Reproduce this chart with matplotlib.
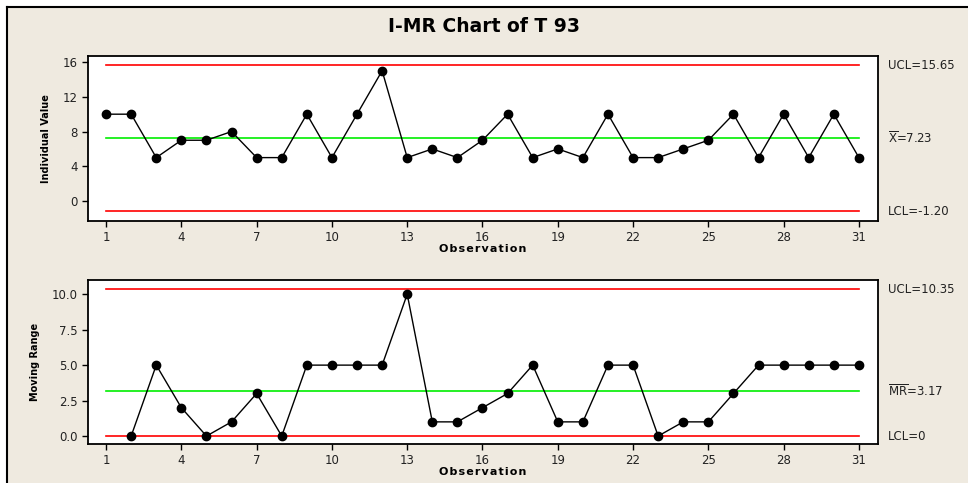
import numpy as np
import matplotlib
matplotlib.use("Agg")
import matplotlib.pyplot as plt
from matplotlib.patches import Rectangle
from matplotlib.lines import Line2D

obs = list(range(1, 32))
individual = [10, 10, 5, 7, 7, 8, 5, 5, 10, 5, 10, 15, 5, 6, 5, 7,
              10, 5, 6, 5, 10, 5, 5, 6, 7, 10, 5, 10, 5, 10, 5]
mr_obs = list(range(2, 32))
moving_range = [0, 5, 2, 0, 1, 3, 0, 5, 5, 5, 5, 10, 1, 1, 2, 3,
                5, 1, 1, 5, 5, 0, 1, 1, 3, 5, 5, 5, 5, 5]

# control limits (UCL, center, LCL)
i_limits = [15.65, 7.23, -1.20]
mr_limits = [10.35, 3.17, 0]
i_labels = ["UCL=15.65", r"$\overline{\mathrm{X}}$=7.23", "LCL=-1.20"]
mr_labels = ["UCL=10.35", r"$\overline{\mathrm{MR}}$=3.17", "LCL=0"]

xticks = list(range(1, 32, 3))
i_yticks = [0, 4, 8, 12, 16]
mr_yticks = [0.0, 2.5, 5.0, 7.5, 10.0]

bg = "#efeae0"
W, H = 968, 483
fig = plt.figure(figsize=(W / 100, H / 100), dpi=100)
fig.patch.set_facecolor("white")

# beige panel with black top/left border
fig.patches.append(Rectangle((7 / W, 0), 1, 1 - 7 / H, transform=fig.transFigure,
                             facecolor=bg, edgecolor="none", zorder=-1))
fig.lines.append(Line2D([7 / W, 1], [1 - 7 / H, 1 - 7 / H], transform=fig.transFigure,
                        color="black", linewidth=1.5))
fig.lines.append(Line2D([7 / W, 7 / W], [0, 1 - 7 / H], transform=fig.transFigure,
                        color="black", linewidth=1.5))

fig.text(0.5, 1 - 27 / H, "I-MR Chart of T 93", ha="center", va="center",
         fontsize=13.5, fontweight="bold")

def make_ax(top, bottom):
    left, right = 88 / W, 878 / W
    return fig.add_axes([left, 1 - bottom / H, right - left, (bottom - top) / H])

ax1 = make_ax(56, 221)
ax2 = make_ax(280, 444)

def draw(ax, x, y, limits, labels, yticks, ylim, ylabel, yfmt):
    ax.set_facecolor("white")
    colors = ["red", "#00ee00", "red"]
    for val, c, lab in zip(limits, colors, labels):
        ax.plot([1, 31], [val, val], color=c, linewidth=1.2, zorder=1)
        ax.annotate(lab, xy=(1, val), xycoords=("axes fraction", "data"),
                    xytext=(7, 0), textcoords="offset points",
                    va="center", ha="left", fontsize=8.5, color="#222222")
    ax.plot(x, y, color="black", linewidth=1, marker="o", markersize=6, zorder=3)
    ax.set_xlim(0.28, 31.76)
    ax.set_ylim(*ylim)
    ax.set_xticks(xticks)
    ax.set_yticks(yticks)
    ax.set_yticklabels([yfmt.format(v) for v in yticks])
    ax.tick_params(direction="out", length=4, width=1, labelsize=8.5, labelcolor="#222222")
    for s in ax.spines.values():
        s.set_linewidth(1.3)
    ax.set_xlabel("O b s e r v a t i o n".replace(" ", "\u200a"), fontsize=8,
                  fontweight="bold", labelpad=0)
    ax.set_ylabel(ylabel, fontsize=7, fontweight="bold", labelpad=8)

draw(ax1, obs, individual, i_limits, i_labels, i_yticks, (-2.3, 16.7),
     "Individual Value", "{:g}")
draw(ax2, mr_obs, moving_range, mr_limits, mr_labels, mr_yticks, (-0.56, 11.0),
     "Moving Range", "{:.1f}")

fig.savefig("out.png", dpi=100, facecolor=fig.get_facecolor())
